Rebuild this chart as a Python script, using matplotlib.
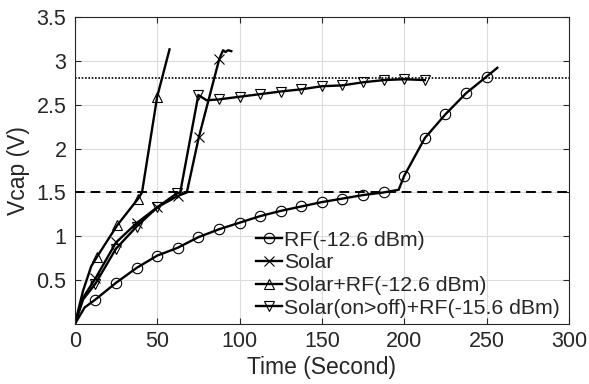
import matplotlib
matplotlib.use("Agg")
import matplotlib.pyplot as plt

plt.rcParams['font.family'] = ['Liberation Sans', 'DejaVu Sans']

# RF(-12.6 dBm)
rf_t = [0, 6, 12.5, 25, 37.5, 50, 62.5, 75, 87.5, 100, 112.5, 125, 137.5, 150,
        162.5, 175, 187.5, 196.6, 200, 212.5, 225, 237.5, 250, 256.5]
rf_v = [0, 0.19, 0.28, 0.47, 0.64, 0.78, 0.87, 0.99, 1.08, 1.155, 1.23, 1.29,
        1.34, 1.39, 1.43, 1.47, 1.50, 1.53, 1.69, 2.12, 2.39, 2.63, 2.82, 2.92]
rf_mk = [2, 3, 4, 5, 6, 7, 8, 9, 10, 11, 12, 13, 14, 15, 16, 18, 19, 20, 21, 22]

# Solar
so_t = [0, 5, 12.5, 25, 37.5, 50, 62.5, 68, 75.3, 87.7, 90, 91.5, 93, 95]
so_v = [0, 0.3, 0.52, 0.93, 1.15, 1.33, 1.46, 1.50, 2.13, 3.02, 3.12, 3.10, 3.12, 3.11]
so_mk = [2, 3, 4, 5, 6, 8, 9]

# Solar+RF(-12.6 dBm)
sr_t = [0, 5, 10, 13.6, 25.9, 38.5, 40.8, 50, 57.5]
sr_v = [0, 0.38, 0.66, 0.77, 1.13, 1.43, 1.50, 2.59, 3.13]
sr_mk = [3, 4, 5, 7]

# Solar(on>off)+RF(-15.6 dBm)
so2_t = [0, 5, 12.5, 25, 37.5, 50, 62, 64, 75, 80, 87.5, 100, 112.5, 125,
         137.5, 150, 162.5, 175, 187.5, 200, 212.5]
so2_v = [0, 0.28, 0.46, 0.86, 1.11, 1.33, 1.49, 1.50, 2.61, 2.55, 2.56, 2.59,
         2.62, 2.65, 2.675, 2.71, 2.72, 2.755, 2.78, 2.79, 2.78]
so2_mk = [2, 3, 4, 5, 6, 8, 10, 11, 12, 13, 14, 15, 16, 17, 18, 19, 20]

xticks = [0, 50, 100, 150, 200, 250, 300]
yticks = [0.5, 1, 1.5, 2, 2.5, 3, 3.5]
ytick_labels = ['0.5', '1', '1.5', '2', '2.5', '3', '3.5']

fig = plt.figure(figsize=(5.89, 3.84), dpi=100)
ax = fig.add_axes([0.127, 0.156, 0.839, 0.800])

lw = 1.7
ms = 7.5
common = dict(color='black', lw=lw, markersize=ms, markerfacecolor='none',
              markeredgecolor='black', markeredgewidth=0.8)
ax.plot(rf_t, rf_v, marker='o', markevery=rf_mk, label='RF(-12.6 dBm)', **common)
ax.plot(so_t, so_v, marker='x', markevery=so_mk, label='Solar', **common)
ax.plot(sr_t, sr_v, marker='^', markevery=sr_mk, label='Solar+RF(-12.6 dBm)', **common)
ax.plot(so2_t, so2_v, marker='v', markevery=so2_mk,
        label='Solar(on>off)+RF(-15.6 dBm)', **common)

ax.axhline(1.5, color='black', lw=1.4, ls=(0, (5, 3)))
ax.axhline(2.8, color='black', lw=1.2, ls=(0, (1, 1)))

ax.set_xlim(0, 300)
ax.set_ylim(0, 3.5)
ax.set_xticks(xticks)
ax.set_yticks(yticks)
ax.set_yticklabels(ytick_labels)
ax.grid(True, color='#dcdcdc', lw=0.8)
ax.set_axisbelow(True)
ax.tick_params(direction='in', top=True, right=True, labelsize=15.5,
               colors='#262626', length=4)
ax.tick_params(axis='x', pad=5)
ax.tick_params(axis='y', pad=6)
for s in ax.spines.values():
    s.set_color('#262626')
ax.set_xlabel('Time (Second)', fontsize=16.5, color='#262626', labelpad=3)
ax.set_ylabel('Vcap (V)', fontsize=16.5, color='#262626', labelpad=5)

leg = ax.legend(loc='lower right', bbox_to_anchor=(0.995, 0.0), frameon=False,
                fontsize=15.3, handlelength=1.25, handletextpad=0.1,
                labelspacing=0.17, borderaxespad=0.2, borderpad=0.1)
for t in leg.get_texts():
    t.set_color('#262626')

fig.savefig('out.png', dpi=100)
